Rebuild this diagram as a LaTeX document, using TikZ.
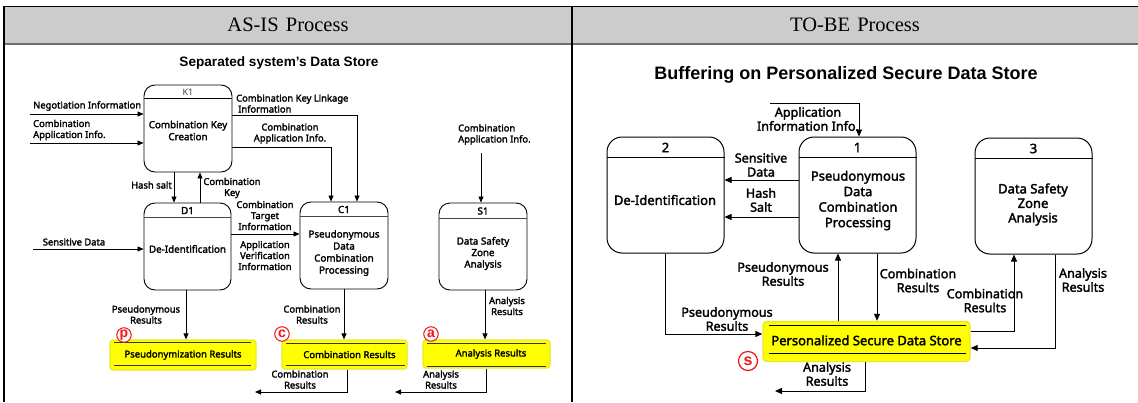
\documentclass[tikz,border=0pt]{standalone}
\usepackage{fontspec}
\setmainfont{Liberation Serif}
\newfontfamily\dfont{Noto Sans}[AutoFakeBold=2.2]
\newfontfamily\tfont{Liberation Sans}
\usetikzlibrary{arrows.meta}
\definecolor{hdrgray}{RGB}{204,204,204}
\definecolor{hdrline}{RGB}{110,110,110}
\definecolor{hiyellow}{RGB}{255,255,0}
\definecolor{hiedge}{RGB}{232,232,40}
\definecolor{boxhdr}{RGB}{70,70,70}
\definecolor{markred}{RGB}{240,20,20}
\tikzset{
  hdrtxt/.style={inner sep=0, font=\fontsize{20.5}{22}\selectfont},
  ttlA/.style={inner sep=0, font=\tfont\bfseries\fontsize{13.6}{15}\selectfont},
  ttlB/.style={inner sep=0, font=\tfont\bfseries\fontsize{18}{20}\selectfont},
  boxA/.style={draw, line width=0.9pt, rounded corners=11pt, inner sep=0},
  boxB/.style={draw, line width=1pt, rounded corners=15pt, inner sep=0, minimum width=117pt, minimum height=116pt},
  hdrA/.style={line width=1.3pt, boxhdr},
  hdrK/.style={line width=0.8pt, black},
  hdrB/.style={line width=1pt, black},
  txA/.style={inner sep=0, align=center, font=\dfont\bfseries\fontsize{9.8}{12}\selectfont},
  idA/.style={inner sep=0, font=\dfont\bfseries\fontsize{9.8}{11}\selectfont},
  idK/.style={inner sep=0, text=black!75, font=\dfont\fontsize{9}{11}\selectfont},
  txB/.style={inner sep=0, align=center, font=\dfont\bfseries\fontsize{13}{15.5}\selectfont},
  lA/.style={inner sep=0, align=center, font=\dfont\bfseries\fontsize{9.4}{11}\selectfont},
  lB/.style={inner sep=0, align=center, font=\dfont\bfseries\fontsize{12.6}{14}\selectfont},
  arrA/.style={line width=0.8pt, -{Triangle[length=6pt,width=5pt]}},
  arrB/.style={line width=1pt, -{Triangle[length=7pt,width=6pt]}},
  storeA/.style={fill=hiyellow, draw=hiedge, line width=1.2pt, rounded corners=3pt, inner sep=0,
    font=\dfont\bfseries\fontsize{9.5}{11}\selectfont},
  storeB/.style={fill=hiyellow, draw=hiedge, line width=1.4pt, rounded corners=4pt, inner sep=0,
    font=\dfont\bfseries\fontsize{13}{14}\selectfont},
  slineA/.style={line width=1.2pt, black!80},
  slineB/.style={line width=1pt, black},
  circA/.style={circle, draw=markred, fill=white, line width=1pt, text=markred, inner sep=0,
    minimum size=14.5pt, font=\tfont\bfseries\fontsize{14}{14}\selectfont},
  circB/.style={circle, draw=markred, fill=white, line width=1.2pt, text=markred, inner sep=0,
    minimum size=19pt, font=\tfont\bfseries\fontsize{16}{16}\selectfont},
}
\begin{document}
\begin{tikzpicture}[x=1pt,y=-1pt]
\useasboundingbox (0,0) rectangle (1138,402);
% ---------- table frame ----------
\fill[hdrgray] (4,6) rectangle (1138,44);
\draw[line width=1pt] (4,6) -- (1138,6);
\draw[line width=1.6pt, hdrline] (4,44) -- (1138,44);
\draw[line width=1.4pt] (4,6) -- (4,402);
\draw[line width=1.2pt] (572,6) -- (572,402);
\node[hdrtxt] (hA) at (288,25) {AS-IS\hspace{0.35em}Process};
\node[hdrtxt] (hB) at (855,25) {TO-BE\hspace{0.35em}Process};
\node[ttlA] (tA) at (279,63) {Separated system’s Data Store};
\node[ttlB] (tB) at (846,75) {Buffering on Personalized Secure Data Store};

% ================= AS-IS =================
\node[boxA, minimum width=88pt, minimum height=87pt] (k1) at (188,128.5) {};
\draw[hdrK] ([yshift=-14pt]k1.north west) -- ([yshift=-14pt]k1.north east);
\node[idK] (k1id) at (188,92.5) {K1};
\node[txA] (k1t) at (188,130.5) {Combination Key\\Creation};

\node[boxA, minimum width=87pt, minimum height=87pt] (d1) at (187.5,246.5) {};
\draw[hdrA] ([yshift=-15pt]d1.north west) -- ([yshift=-15pt]d1.north east);
\node[idA] (d1id) at (187.5,210.5) {D1};
\node[txA] (d1t) at (187.5,249) {De-Identification};

\node[boxA, minimum width=88pt, minimum height=87pt] (c1) at (344,245.5) {};
\draw[hdrA] ([yshift=-15pt]c1.north west) -- ([yshift=-15pt]c1.north east);
\node[idA] (c1id) at (344,209.5) {C1};
\node[txA] (c1t) at (344,253) {Pseudonymous\\Data\\Combination\\Processing};

\node[boxA, minimum width=88pt, minimum height=87pt] (s1) at (483,246.5) {};
\draw[hdrA] ([yshift=-16pt]s1.north west) -- ([yshift=-16pt]s1.north east);
\node[idA] (s1id) at (483,211) {S1};
\node[txA, font=\dfont\bfseries\fontsize{9.8}{11.5}\selectfont] (s1t) at (483,253.5) {Data Safety\\Zone\\Analysis};

% stores
\node[storeA, minimum width=146pt, minimum height=30pt] (ps) at (183,355) {Pseudonymization Results};
\draw[slineA] ([xshift=5pt,yshift=-3pt]ps.north west) -- ([xshift=-6pt,yshift=-3pt]ps.north east);
\draw[slineA] ([xshift=5pt,yshift=5pt]ps.south west) -- ([xshift=-6pt,yshift=5pt]ps.south east);
\node[storeA, minimum width=125pt, minimum height=29pt] (cs) at (344.5,354.5) {\hspace{10pt}Combination Results};
\draw[slineA] ([xshift=5pt,yshift=-4pt]cs.north west) -- ([xshift=-3pt,yshift=-4pt]cs.north east);
\draw[slineA] ([xshift=5pt,yshift=4pt]cs.south west) -- ([xshift=-3pt,yshift=4pt]cs.south east);
\node[storeA, minimum width=127pt, minimum height=28pt] (as) at (486.5,354) {\hspace{9pt}Analysis Results};
\draw[slineA] ([xshift=5pt,yshift=-4pt]as.north west) -- ([xshift=-5pt,yshift=-4pt]as.north east);
\draw[slineA] ([xshift=5pt,yshift=2.5pt]as.south west) -- ([xshift=-5pt,yshift=2.5pt]as.south east);

% connectors
\coordinate (negS) at (30,114);
\draw[arrA] (negS) -- (negS -| k1.west);
\coordinate (capS) at (30,143);
\draw[arrA] (capS) -- (capS -| k1.west);
\draw[arrA] ([yshift=13.5pt]k1.east) -| ([xshift=13pt]c1.north);
\draw[arrA] ([yshift=-18.5pt]k1.east) -| ([xshift=-13pt]c1.north);
\draw[arrA] ([xshift=-13.5pt]d1.north |- k1.south) -- ([xshift=-13.5pt]d1.north);
\draw[arrA] ([xshift=12.5pt]d1.north) -- ([xshift=12.5pt]d1.north |- k1.south);
\draw[arrA] ([yshift=12.5pt]d1.east) -- ([yshift=12.5pt]d1.east -| c1.west);
\coordinate (sdS) at (33,249);
\draw[arrA] (sdS) -- (sdS -| d1.west);
\coordinate (s1S) at (481,153);
\draw[arrA] (s1S) -- (s1S |- s1.north);
\draw[arrA] ([xshift=-1.5pt]d1.south) -- ([xshift=-1.5pt]d1.south |- ps.north);
\draw[arrA] (c1.south) -- (c1.south |- cs.north);
\draw[arrA] ([xshift=2pt]s1.south) -- ([xshift=2pt]s1.south |- as.north);
\coordinate (csO) at (255,392);
\draw[arrA] ([xshift=2.5pt]cs.south) |- (csO);
\coordinate (asO) at (395,392);
\draw[arrA] (as.south) |- (asO);

% labels
\node[lA, anchor=west] (lneg) at (33,106) {Negotiation Information};
\node[lA, anchor=west, align=left] (lcap) at (33,130) {Combination\\Application Info.};
\node[lA, anchor=west, align=left] (llink) at (236,103.5) {Combination Key Linkage\\\hspace{2pt}Information};
\node[lA] (lapp) at (290,133.5) {Combination\\Application Info.};
\node[lA, anchor=east] (lhash) at (172,185) {Hash salt};
\node[lA] (lckey) at (232,188) {Combination\\Key};
\node[lA] (lcti) at (265,215.5) {Combination\\Target\\Information};
\node[lA] (lavi) at (265,255.5) {Application\\Verification\\Information};
\node[lA] (lsd) at (74,242) {Sensitive Data};
\node[lA, anchor=west, align=left] (ls1in) at (458,134.5) {Combination\\Application Info.};
\node[lA] (lpr) at (146,314.5) {Pseudonymous\\Results};
\node[lA] (lcr) at (312,314.5) {Combination\\Results};
\node[lA] (lar) at (507,306) {Analysis\\Results};
\node[lA] (lcro) at (300,379.5) {Combination\\Results};
\node[lA] (laro) at (441,379.5) {Analysis\\Results};

\node[circA] (mp) at (124,335) {\raisebox{1pt}{p}};
\node[circA] (mc) at (282,334) {c};
\node[circA] (ma) at (431,334) {a};

% ================= TO-BE =================
\node[boxB] (b2) at (665.5,195) {};
\draw[hdrB] ([yshift=-21pt]b2.north west) -- ([yshift=-21pt]b2.north east);
\node[txB] (b2id) at (665.5,147.5) {2};
\node[txB] (b2t) at (665,200) {De-Identification};

\node[boxB] (b1) at (857.5,195) {};
\draw[hdrB] ([yshift=-21pt]b1.north west) -- ([yshift=-21pt]b1.north east);
\node[txB] (b1id) at (857.5,147.5) {1};
\node[txB] (b1t) at (858,200.5) {Pseudonymous\\Data\\Combination\\Processing};

\node[boxB] (b3) at (1033.5,196) {};
\draw[hdrB] ([yshift=-21pt]b3.north west) -- ([yshift=-21pt]b3.north east);
\node[txB] (b3id) at (1033.5,148.5) {3};
\node[txB, font=\dfont\bfseries\fontsize{13}{14.5}\selectfont] (b3t) at (1033,204.5) {Data Safety\\Zone\\Analysis};

\node[storeB, minimum width=207pt, minimum height=40pt] (st) at (866.5,341.5) {\raisebox{2.5pt}{Personalized Secure Data Store}};
\draw[slineB] ([xshift=7pt,yshift=-4.5pt]st.north west) -- ([xshift=-5pt,yshift=-4.5pt]st.north east);
\draw[slineB] ([xshift=7pt,yshift=8.5pt]st.south west) -- ([xshift=-5pt,yshift=8.5pt]st.south east);

\coordinate (aiS) at (770,103);
\draw[arrB] (aiS) -| ([xshift=1.5pt]b1.north);
\draw[arrB] ([yshift=15pt]b1.west) -- ([yshift=15pt]b1.west -| b2.east);
\draw[arrB] ([yshift=-22pt]b1.west) -- ([yshift=-22pt]b1.west -| b2.east);
\draw[arrB] (b2.south) |- ([yshift=7.5pt]st.west);
\draw[arrB] ([xshift=-28.5pt]st.north) -- ([xshift=-28.5pt]st.north |- b1.south);
\draw[arrB] ([xshift=19.5pt]b1.south) -- ([xshift=19.5pt]b1.south |- st.north);
\draw[arrB] ([yshift=10.5pt]st.east) -| ([xshift=-19.5pt]b3.south);
\draw[arrB] ([xshift=21.5pt]b3.south) |- ([yshift=-6.5pt]st.east);
\coordinate (stO) at (775,391);
\draw[arrB] ([xshift=-1.5pt]st.south) |- (stO);

\node[lB] (lai) at (808,119) {Application\\Information Info.};
\node[lB] (lsd2) at (761,165) {Sensitive\\Data};
\node[lB] (lhs2) at (761,200) {Hash\\Salt};
\node[lB] (lpr2) at (727,319) {Pseudonymous\\Results};
\node[lB] (lpu2) at (783,274) {Pseudonymous\\Results};
\node[lB] (lcr2) at (918,280.5) {Combination\\Results};
\node[lB] (lcr3) at (985,300.5) {Combination\\Results};
\node[lB] (lar2) at (1083,280) {Analysis\\Results};
\node[lB] (lar3) at (827,374) {Analysis\\Results};

\node[circB] (ms) at (748,361) {s};
\end{tikzpicture}
\end{document}
